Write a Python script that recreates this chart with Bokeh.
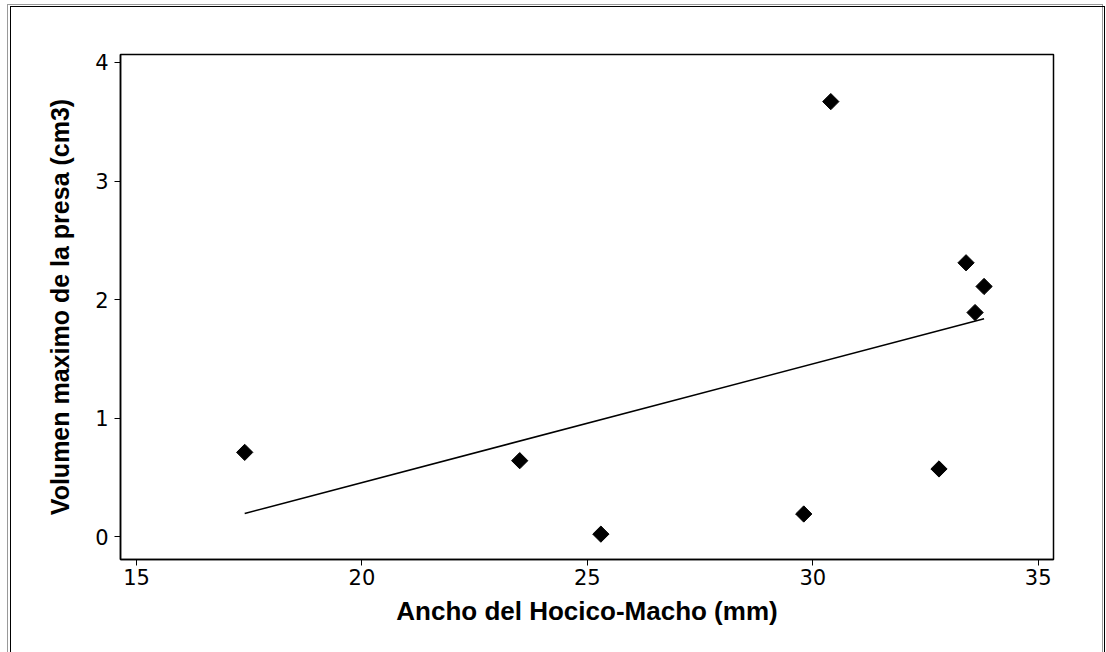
import numpy as np
from bokeh.plotting import figure
from bokeh.models import FixedTicker, Range1d, InlineStyleSheet
from bokeh.embed import file_html
from bokeh.resources import INLINE

# Data
ancho = [17.4, 23.5, 25.3, 29.8, 30.4, 32.8, 33.4, 33.6, 33.8]
volumen = [0.71, 0.64, 0.02, 0.19, 3.67, 0.57, 2.31, 1.89, 2.11]
x_ticks = [15, 20, 25, 30, 35]
y_ticks = [0, 1, 2, 3, 4]
x_title = "Ancho del Hocico-Macho (mm)"
y_title = "Volumen maximo de la presa (cm3)"

# least-squares fit line
slope, intercept = np.polyfit(ancho, volumen, 1)
fit_x = [min(ancho), max(ancho)]
fit_y = [slope * v + intercept for v in fit_x]

css = """
:host { position: relative; }
:host::before {
  content: ''; position: absolute; left: 7px; top: 4px; right: 3px; bottom: -30px;
  border: 1.5px solid #9a9a9a; pointer-events: none; z-index: 5;
}
:host::after {
  content: ''; position: absolute; left: 10px; top: 6px; right: 1px; bottom: -30px;
  border: 1.5px solid #000000; pointer-events: none; z-index: 6;
}
"""

W, H = 1106, 652
p = figure(width=W, height=H, output_backend="svg", toolbar_location=None,
           x_range=Range1d(14.645, 35.34), y_range=Range1d(-0.194, 4.0675),
           min_border_left=120, min_border_top=54, min_border_right=53,
           min_border_bottom=93, stylesheets=[InlineStyleSheet(css=css)])
p.background_fill_color = "white"
p.border_fill_color = "white"
p.grid.visible = False
p.outline_line_color = "black"
p.outline_line_width = 1.5

p.line(fit_x, fit_y, line_color="black", line_width=1.5)
p.scatter(ancho, volumen, marker="square", size=11.5, angle=np.pi / 4,
          fill_color="black", line_color="black")

for ax, ticks in ((p.xaxis[0], x_ticks), (p.yaxis[0], y_ticks)):
    ax.ticker = FixedTicker(ticks=ticks)
    ax.minor_tick_line_color = None
    ax.major_tick_in = 0
    ax.major_tick_out = 6
    ax.major_tick_line_width = 1
    ax.major_tick_line_color = "black"
    ax.axis_line_color = "black"
    ax.axis_line_width = 1.5
    ax.major_label_text_font = "DejaVu Sans"
    ax.major_label_text_font_size = "21px"
    ax.major_label_text_color = "black"
    ax.axis_label_text_font = "Liberation Sans"
    ax.axis_label_text_font_style = "bold"
    ax.axis_label_text_color = "black"

p.xaxis[0].axis_label = x_title
p.xaxis[0].axis_label_text_font_size = "26px"
p.xaxis[0].major_label_standoff = 3
p.xaxis[0].axis_label_standoff = 8
p.yaxis[0].axis_label = y_title
p.yaxis[0].axis_label_text_font_size = "25px"
p.yaxis[0].major_label_standoff = 6
p.yaxis[0].axis_label_standoff = 18

open("out.html", "w").write(file_html(p, INLINE))
